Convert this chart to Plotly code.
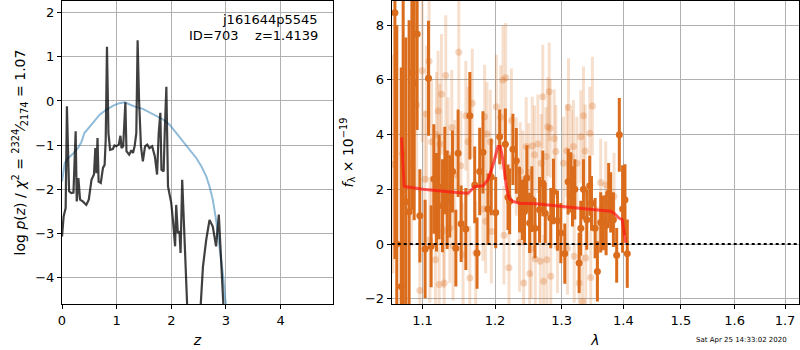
import plotly.graph_objects as go

# ---------------- left panel: p(z) ----------------
z_pz = [0.0, 0.03, 0.067, 0.09, 0.11, 0.13, 0.17, 0.21, 0.25, 0.27, 0.30, 0.33, 0.38, 0.445, 0.49,
        0.54, 0.585, 0.61, 0.63, 0.65, 0.67, 0.71, 0.75, 0.78, 0.80, 0.823, 0.85, 0.88, 0.93, 0.96,
        0.99, 1.04, 1.07, 1.09, 1.12, 1.16, 1.18, 1.23, 1.27, 1.30, 1.33, 1.36, 1.384, 1.41, 1.445,
        1.48, 1.52, 1.56, 1.60, 1.65, 1.70, 1.74, 1.77, 1.80, 1.82, 1.86, 1.88, 1.91, 1.94, 1.97,
        2.00, 2.03, 2.07, 2.09, 2.12, 2.15, 2.17, 2.20, 2.23, 2.27, 2.35, 2.45, 2.53, 2.58, 2.64,
        2.70, 2.76, 2.82, 2.87, 2.91, 2.97, 3.05]
logpz = [-3.08, -2.62, -2.43, -0.12, -1.10, -2.05, -2.09, -2.08, -0.69, -2.28, -1.75, -2.24, -2.28,
         -2.36, -2.24, -1.79, -1.67, -1.07, -1.64, -0.84, -1.83, -1.86, -1.52, -1.45, -0.88, 1.23,
         -0.73, -1.11, -1.09, -1.01, -1.03, -0.99, -0.79, -1.07, -1.03, -0.03, -1.14, -1.22, -1.12,
         -1.18, -1.02, -0.73, 1.38, 0.03, -1.03, -1.37, -1.03, -0.99, -1.07, -1.03, -1.26, -1.67,
         -0.73, -0.27, -1.56, -1.60, -0.73, 0.32, -1.94, -2.17, -2.32, -2.70, -3.30, -2.36, -3.00,
         -2.96, -3.45, -1.79, -2.85, -4.9, -6.5, -6.5, -4.8, -3.76, -3.15, -2.70, -2.85, -3.30,
         -2.58, -3.61, -4.9, -7.0]

z_prior = [0.0, 0.05, 0.11, 0.20, 0.29, 0.35, 0.41, 0.49, 0.60, 0.69, 0.81, 0.93, 1.05, 1.15, 1.24,
           1.36, 1.48, 1.60, 1.73, 1.85, 1.97, 2.09, 2.21, 2.34, 2.46, 2.55, 2.64, 2.70, 2.76, 2.82,
           2.88, 2.95, 2.99, 3.02, 3.10]
log_prior = [-1.83, -1.41, -1.30, -1.20, -1.07, -0.95, -0.73, -0.61, -0.46, -0.31, -0.20, -0.11,
             -0.05, -0.03, -0.08, -0.14, -0.18, -0.26, -0.35, -0.42, -0.54, -0.73, -0.92, -1.11,
             -1.30, -1.48, -1.71, -1.94, -2.24, -2.70, -3.30, -3.98, -4.52, -4.75, -5.6]

# ---------------- right panel: spectrum ----------------
dark_wave = [1.0641, 1.0665, 1.0722, 1.0747, 1.0781, 1.0824, 1.0860, 1.0890, 1.0929, 1.0964, 1.1034,
             1.1079, 1.1114, 1.1150, 1.1186, 1.1221, 1.1267, 1.1298, 1.1330, 1.1366, 1.1403, 1.1449,
             1.1480, 1.1522, 1.1587, 1.1643, 1.1711, 1.1744, 1.1781, 1.1828, 1.1899, 1.1945, 1.2010,
             1.2067, 1.2150, 1.2188, 1.2213, 1.2261, 1.2311, 1.2359, 1.2400, 1.2433, 1.2468, 1.2509,
             1.2543, 1.2589, 1.2659, 1.2709, 1.2746, 1.2831, 1.2873, 1.2935, 1.2987, 1.3049, 1.3102,
             1.3143, 1.3170, 1.3207, 1.3276, 1.3302, 1.3345, 1.3398, 1.3446, 1.3474, 1.3533, 1.3570,
             1.3624, 1.3668, 1.3713, 1.3755, 1.3788, 1.3833, 1.3888, 1.3932, 1.3987, 1.4027, 1.4066]
dark_flux = [8.45, 0.0, -1.55, 3.3, 1.55, 1.18, 6.25, 5.87, 7.67, 1.03, -0.18, 6.06, -0.08, 2.38, 1.53,
             2.08, 1.40, 2.69, 1.62, 1.74, 2.65, -0.15, 3.32, 0.74, 0.55, 4.69, 2.16, -0.33, 2.65,
             3.35, 1.28, 2.45, 1.15, 3.92, 3.65, 1.71, 1.56, 3.46, 3.04, 1.62, 1.25, 1.19, 2.41, 0.77,
             1.64, 0.58, 1.25, 2.22, 1.13, 0.95, 1.92, 0.86, 0.40, -0.35, 2.28, 2.25, 1.74, 2.00,
             -0.69, 0.58, 2.00, 0.89, 2.13, 1.49, 0.58, -1.00, 0.79, 0.77, 0.69, 1.86, 1.52, 0.89,
             -0.41, 3.99, 1.28, 1.62, -0.35]
dark_err = [9.0, 8.0, 8.0, 6.0, 6.0, 7.0, 5.0, 5.0, 3.5, 1.7, 1.8, 2.1, 1.5, 2.0, 1.8, 1.9, 1.7, 1.6,
            1.8, 1.5, 1.5, 1.4, 1.6, 1.4, 1.5, 1.6, 1.4, 1.3, 1.6, 1.5, 1.3, 1.4, 1.3, 1.0, 1.3, 1.2,
            1.2, 1.3, 1.2, 1.2, 1.1, 1.2, 1.2, 1.1, 1.2, 1.1, 1.2, 1.2, 1.1, 1.1, 1.2, 1.1, 1.1, 1.1,
            1.2, 1.1, 1.1, 1.1, 1.1, 1.0, 1.1, 1.1, 1.1, 1.0, 1.1, 1.1, 1.1, 1.0, 1.1, 1.1, 1.1, 1.0,
            1.0, 1.35, 1.6, 1.3, 1.25]

light_wave = [1.0619, 1.0856, 1.0921, 1.0964, 1.0995, 1.1030, 1.1053, 1.1087, 1.1097, 1.1119, 1.1172,
              1.1186, 1.1207, 1.1221, 1.1230, 1.1253, 1.1284, 1.1290, 1.1311, 1.1342, 1.1366, 1.1393,
              1.1411, 1.1434, 1.1489, 1.1517, 1.1548, 1.1587, 1.1618, 1.1643, 1.1677, 1.1725, 1.1828,
              1.1852, 1.1866, 1.1885, 1.1933, 1.1947, 1.2019, 1.2082, 1.2115, 1.2130, 1.2155, 1.2203,
              1.2238, 1.2311, 1.2359, 1.2369, 1.2408, 1.2420, 1.2458, 1.2498, 1.2510, 1.2533, 1.2549,
              1.2583, 1.2595, 1.2634, 1.2670, 1.2686, 1.2709, 1.2721, 1.2761, 1.2771, 1.2785, 1.2807,
              1.2822, 1.2831, 1.2884, 1.2909, 1.2935, 1.3028, 1.3080, 1.3091, 1.3107, 1.3154, 1.3186,
              1.3197, 1.3239, 1.3276, 1.3302, 1.3330, 1.3345, 1.3371, 1.3382, 1.3446, 1.3462, 1.3489,
              1.3570, 1.3624, 1.3706, 1.3844]
light_flux = [2.92, 2.93, 5.08, -1.70, 6.33, 2.37, 4.75, 6.68, 0.16, 3.74, -0.57, 3.99, 4.86, -1.48,
              3.66, 5.47, 0.49, -1.42, 6.16, 3.26, 0.58, 4.26, -0.06, 2.53, 7.01, 2.86, -0.39, 4.69,
              3.74, -1.24, 5.14, -0.33, 1.28, 4.65, 0.83, 4.02, 3.74, 0.46, 5.02, 4.63, 5.99, 0.32,
              6.08, -0.87, 4.51, 2.83, 0.06, 2.65, 2.35, -1.42, 3.56, 2.61, -1.08, -0.18, 3.58, 3.26,
              -0.55, 3.66, -0.63, 2.95, 5.38, -1.36, 3.20, -0.57, 4.29, 5.56, 4.23, -1.18, 3.86, 3.38,
              -0.09, 2.95, 3.41, -0.15, 4.99, 3.20, 3.56, -0.45, 2.95, -1.42, 3.92, -2.09, 4.69, 3.40,
              -0.51, 4.05, -1.22, 5.04, -0.23, 2.25, 2.16, 1.74]
light_err = [4.0, 3.0, 3.0, 2.5, 2.6, 2.5, 2.5, 2.4, 2.3, 2.3, 2.2, 2.3, 2.2, 2.2, 2.2, 2.2, 2.1, 2.1,
             2.2, 2.1, 2.0, 2.1, 2.0, 2.0, 2.1, 2.0, 1.9, 2.0, 2.0, 1.9, 2.0, 1.9, 1.9, 1.9, 1.9, 1.9,
             1.9, 1.9, 1.9, 1.9, 2.0, 1.8, 2.0, 1.8, 1.9, 1.8, 1.8, 1.8, 1.8, 1.8, 1.8, 1.8, 1.8, 1.8,
             1.8, 1.8, 1.7, 1.8, 1.7, 1.8, 1.9, 1.7, 1.8, 1.7, 1.8, 1.8, 1.8, 1.7, 1.8, 1.7, 1.7, 1.7,
             1.7, 1.7, 1.8, 1.7, 1.7, 1.7, 1.7, 1.7, 1.7, 1.7, 1.8, 1.7, 1.7, 1.7, 1.7, 1.8, 1.6, 1.6,
             1.6, 1.6]

model_wave = [1.0727, 1.0745, 1.0760, 1.0769, 1.1008, 1.1458, 1.1618, 1.1643, 1.1711, 1.1828, 1.1899,
              1.1971, 1.2043, 1.2077, 1.2115, 1.2164, 1.2203, 1.2261, 1.2359, 1.2608, 1.2812, 1.3091,
              1.3409, 1.3788, 1.3844, 1.3926, 1.3982, 1.4020, 1.4037]
model_flux = [3.9, 2.6, 2.12, 2.10, 2.0, 1.88, 1.86, 1.92, 2.10, 2.13, 2.35, 2.89, 3.56, 3.56, 3.07,
              2.10, 1.68, 1.56, 1.49, 1.47, 1.41, 1.35, 1.28, 1.20, 1.13, 0.95, 0.89, 0.28, 0.05]

x_ticks_left = [0, 1, 2, 3, 4]
y_ticks_left = [-4, -3, -2, -1, 0, 1, 2]
x_ticks_right = [1.1, 1.2, 1.3, 1.4, 1.5, 1.6, 1.7]
y_ticks_right = [-2, 0, 2, 4, 6, 8]


def lab(v):
    s = ("%g" % v)
    return s.replace("-", "\u2212")


DARK = "rgb(218,108,28)"
LIGHT_BAR = "rgba(218,108,28,0.22)"
LIGHT_DOT = "rgba(218,108,28,0.28)"

fig = go.Figure()

fig.add_trace(go.Scatter(x=z_prior, y=log_prior, mode="lines",
                         line=dict(color="rgba(31,119,180,0.5)", width=2),
                         xaxis="x", yaxis="y", showlegend=False))
fig.add_trace(go.Scatter(x=z_pz, y=logpz, mode="lines",
                         line=dict(color="rgba(0,0,0,0.75)", width=2.2),
                         xaxis="x", yaxis="y", showlegend=False))

fig.add_trace(go.Scatter(x=light_wave, y=light_flux, mode="markers",
                         marker=dict(color=LIGHT_DOT, size=7, line=dict(width=0)),
                         error_y=dict(type="data", array=light_err, color=LIGHT_BAR,
                                      thickness=3, width=0),
                         xaxis="x2", yaxis="y2", showlegend=False))
fig.add_trace(go.Scatter(x=dark_wave, y=dark_flux, mode="markers",
                         marker=dict(color=DARK, size=7, line=dict(width=0)),
                         error_y=dict(type="data", array=dark_err, color=DARK,
                                      thickness=3, width=0),
                         xaxis="x2", yaxis="y2", showlegend=False))
fig.add_trace(go.Scatter(x=model_wave, y=model_flux, mode="lines",
                         line=dict(color="rgba(255,20,20,0.7)", width=3),
                         xaxis="x2", yaxis="y2", showlegend=False))
fig.add_trace(go.Scatter(x=[1.06, 1.7287], y=[0, 0], mode="lines",
                         line=dict(color="black", width=2, dash="dot"),
                         xaxis="x2", yaxis="y2", showlegend=False))

axis_common = dict(showline=True, linecolor="black", linewidth=1, mirror=True,
                   ticks="outside", ticklen=4, tickcolor="black", automargin=False,
                   showgrid=True, gridcolor="#b0b0b0", gridwidth=1, zeroline=False,
                   tickfont=dict(family="DejaVu Sans", size=13, color="black"))

ML, MR, MT, MB = 62, 1, 1, 46
W = 800 - ML - MR
H = 350 - MT - MB


def px_x(px):
    return (px - ML) / W


def px_y(py):
    return (350 - MB - py) / H


fig.update_layout(
    width=800, height=350,
    margin=dict(l=ML, r=MR, t=MT, b=MB, autoexpand=False),
    paper_bgcolor="white", plot_bgcolor="white",
    font=dict(family="DejaVu Sans", size=13, color="black"),
    xaxis=dict(domain=[0, px_x(333)], range=[0, 4.96], anchor="y",
               tickvals=x_ticks_left, ticktext=[lab(v) for v in x_ticks_left],
               title=dict(text="<i>z</i>", standoff=8, font=dict(size=14)), **axis_common),
    yaxis=dict(domain=[0, 1], range=[-4.61, 2.27], anchor="x",
               tickvals=y_ticks_left, ticktext=[lab(v) for v in y_ticks_left],
               title=dict(text="log <i>p</i>(<i>z</i>) / <i>\u03c7</i><sup>2</sup> = "
                               "<sup>2324</sup>\u2044<sub>2174</sub> = 1.07",
                          standoff=6, font=dict(size=14)), **axis_common),
    xaxis2=dict(domain=[px_x(391.7), 1.0], type="log",
                range=[0.025306, 0.237721], anchor="y2",
                tickvals=x_ticks_right, ticktext=[lab(v) for v in x_ticks_right],
                title=dict(text="<i>\u03bb</i>", standoff=8, font=dict(size=14)), **axis_common),
    yaxis2=dict(domain=[0, 1], range=[-2.19, 8.88], anchor="x2",
                tickvals=y_ticks_right, ticktext=[lab(v) for v in y_ticks_right],
                title=dict(text="<i>f</i><sub>\u03bb</sub> \u00d7 10<sup>\u221219</sup>",
                           standoff=8, font=dict(size=14)), **axis_common),
    annotations=[
        dict(text="j161644p5545", x=px_x(320), y=px_y(20), xref="paper", yref="paper",
             xanchor="right", yanchor="middle", showarrow=False,
             font=dict(family="DejaVu Sans", size=13)),
        dict(text="ID=703\u00a0\u00a0\u00a0\u00a0z=1.4139", x=px_x(320), y=px_y(35),
             xref="paper", yref="paper", xanchor="right", yanchor="middle", showarrow=False,
             font=dict(family="DejaVu Sans", size=13)),
        dict(text="Sat Apr 25 14:33:02 2020", x=px_x(789), y=px_y(340), xref="paper",
             yref="paper", xanchor="right", yanchor="middle", showarrow=False,
             font=dict(family="DejaVu Sans", size=7)),
    ],
)

fig.write_html("out.html", config={"displayModeBar": False},
               post_script="document.body.style.margin='0';document.body.style.overflow='hidden';")
